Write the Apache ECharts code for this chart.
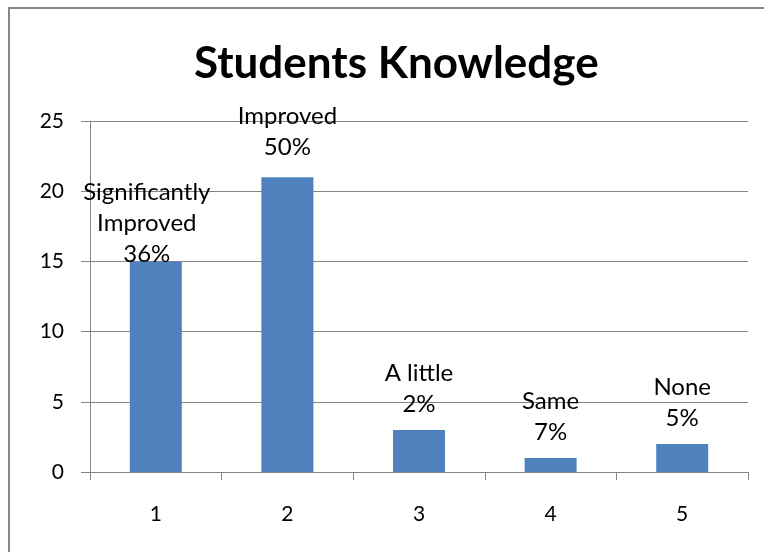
<!DOCTYPE html>
<html><head><meta charset="utf-8">
<script src="https://cdn.jsdelivr.net/npm/echarts@6/dist/echarts.min.js"></script>
<style>html,body{margin:0;padding:0;background:#fff;overflow:hidden}#c{width:764px;height:552px}</style>
</head><body><div id="c"></div>
<script>
var categories = ['1','2','3','4','5'];
var values = [15, 21, 3, 1, 2];
var labelNames = ['Significantly\nImproved', 'Improved', 'A little', 'Same', 'None'];
var labelPcts = ['36%', '50%', '2%', '7%', '5%'];
var yTicks = [0, 5, 10, 15, 20, 25];

var font = 'Lato, "Open Sans", sans-serif';
var chart = echarts.init(document.getElementById('c'));
var data = values.map(function (v, i) {
  var d = { value: v, label: { formatter: labelNames[i] + '\n' + labelPcts[i] } };
  if (i === 0) d.label.offset = [-9, 18];
  if (i === 1) d.label.offset = [0, -4];
  return d;
});
chart.setOption({
  animation: false,
  title: {
    text: 'Students Knowledge', left: 189, top: 37,
    textStyle: { fontFamily: font, fontSize: 44, fontWeight: 'bold', color: '#000' }
  },
  graphic: [{
    type: 'polyline', shape: { points: [[9, 560], [9, 8], [770, 8]] },
    style: { fill: 'none', stroke: '#868686', lineWidth: 2 }, silent: true
  }],
  grid: { left: 90, right: 16, top: 121, bottom: 80 },
  xAxis: {
    type: 'category', data: categories,
    axisLine: { lineStyle: { color: '#868686' } },
    axisTick: { show: true, length: 8, lineStyle: { color: '#868686' } },
    axisLabel: { fontFamily: font, fontSize: 21, color: '#000', margin: 32 }
  },
  yAxis: {
    type: 'value', min: yTicks[0], max: yTicks[yTicks.length - 1], interval: 5,
    axisLine: { show: true, lineStyle: { color: '#868686' } },
    axisTick: { show: true, length: 9, lineStyle: { color: '#868686' } },
    splitLine: { lineStyle: { color: '#868686' } },
    axisLabel: { fontFamily: font, fontSize: 21, color: '#000', margin: 26 }
  },
  series: [{
    type: 'bar', data: data, barWidth: 52,
    itemStyle: { color: '#4F81BD' },
    label: {
      show: true, position: 'top', distance: 10,
      fontFamily: font, fontSize: 24, color: '#000', lineHeight: 31, align: 'center'
    }
  }]
});
</script></body></html>
